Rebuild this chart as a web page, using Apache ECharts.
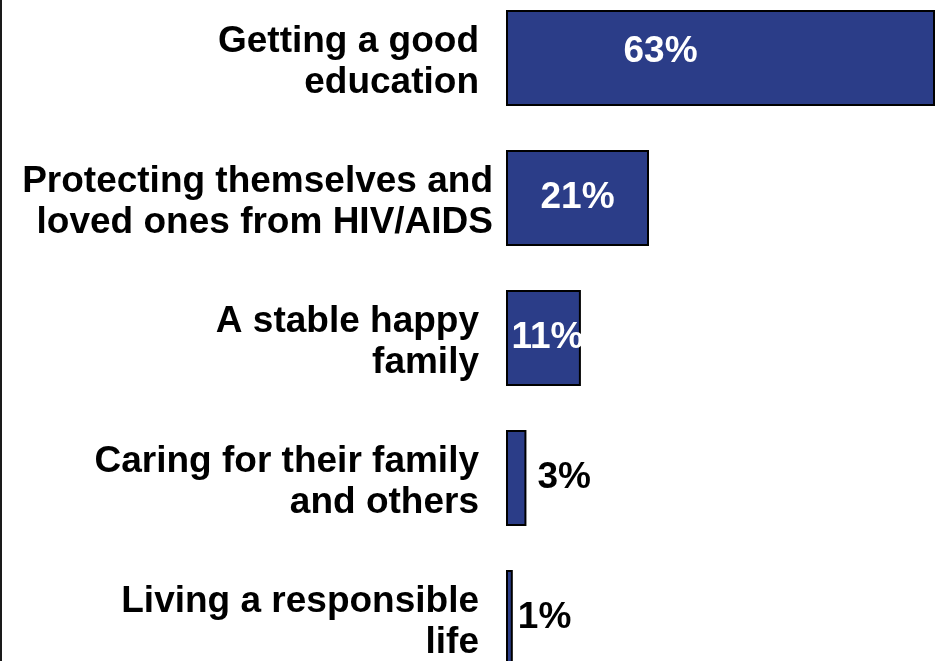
<!DOCTYPE html>
<html>
<head>
<meta charset="utf-8">
<style>
  html, body { margin: 0; padding: 0; background: #fff; overflow: hidden; }
  #wrap { position: relative; width: 937px; height: 661px; border-left: 2px solid #1a1a1a; overflow: hidden; }
  #chart { position: absolute; left: 0; top: -12px; width: 937px; height: 700px; }
</style>
<script src="https://cdn.jsdelivr.net/npm/echarts@6/dist/echarts.min.js"></script>
</head>
<body>
<div id="wrap"><div id="chart"></div></div>
<script>
const categories = [
  'Getting a good\neducation',
  'Protecting themselves and\nloved ones from HIV/AIDS',
  'A stable happy\nfamily',
  'Caring for their family\nand others',
  'Living a responsible\nlife'
];
const values = [63, 21, 11, 3, 1];
const valueLabels = ['63%', '21%', '11%', '3%', '1%'];

const FONT = '"Liberation Sans", Arial, sans-serif';

function labelFor(i) {
  const base = { show: true, fontFamily: FONT, fontWeight: 'bold', fontSize: 37,
                 formatter: () => valueLabels[i] };
  if (i === 0) return Object.assign(base, { position: 'inside', color: '#fff', offset: [-60, -6] });
  if (i === 1) return Object.assign(base, { position: 'inside', color: '#fff' });
  if (i === 2) return Object.assign(base, { position: 'inside', color: '#fff', offset: [4, 0] });
  if (i === 3) return Object.assign(base, { position: 'right', color: '#000', distance: 11 });
  return Object.assign(base, { position: 'right', color: '#000', distance: 5 });
}

const txt = { fontFamily: FONT, fontWeight: 'bold', fontSize: 37, color: '#000', lineHeight: 41 };

const chart = echarts.init(document.getElementById('chart'), null, { renderer: 'canvas' });
chart.setOption({
  animation: false,
  backgroundColor: '#fff',
  grid: { left: 504, right: 4, top: 0, bottom: 0, containLabel: false },
  xAxis: { type: 'value', min: 0, max: 63, show: false },
  yAxis: {
    type: 'category',
    inverse: true,
    data: categories,
    axisLine: { show: false },
    axisTick: { show: false },
    splitLine: { show: false },
    axisLabel: {
      margin: 13,
      lineHeight: 41,
      padding: [8, 0, 0, 0],
      formatter: function (v) {
        const p = v.indexOf('Protecting') === 0 ? 'p' : 'a';
        return v.split('\n').map(s => '{' + p + '|' + s + '}').join('\n');
      },
      rich: {
        a: Object.assign({}, txt, { padding: [0, 14, 0, 0] }),
        p: Object.assign({}, txt)
      }
    }
  },
  series: [{
    type: 'bar',
    barWidth: 96,
    itemStyle: { color: '#2b3d88', borderColor: '#000', borderWidth: 2 },
    data: values.map((v, i) => ({ value: v, label: labelFor(i) }))
  }]
});
</script>
</body>
</html>
